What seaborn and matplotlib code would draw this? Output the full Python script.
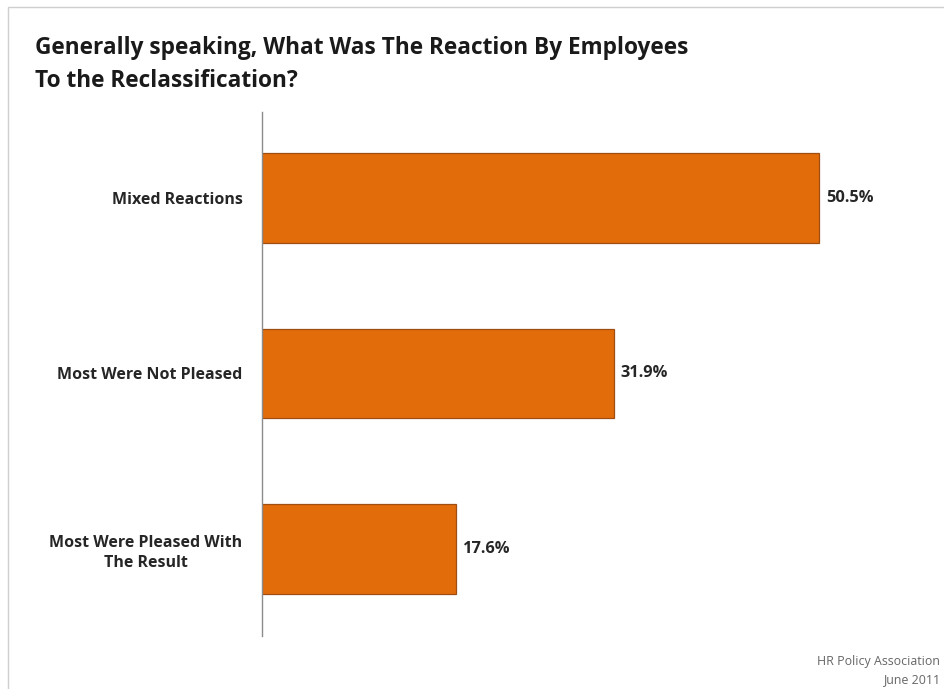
import matplotlib
matplotlib.use("Agg")
import matplotlib.pyplot as plt
import seaborn as sns
import pandas as pd
from matplotlib.patches import Rectangle

# data
reactions = ["Mixed Reactions", "Most Were Not Pleased", "Most Were Pleased With\nThe Result"]
percents = [50.5, 31.9, 17.6]
value_labels = ["50.5%", "31.9%", "17.6%"]

df = pd.DataFrame({"reaction": reactions, "pct": percents})

sns.set_theme(style="white")
plt.rcParams["font.family"] = ["Open Sans", "DejaVu Sans"]

fig = plt.figure(figsize=(9.45, 6.89), dpi=100)
ax = fig.add_axes([0.2772, 0.0769, 0.6540, 0.7605])

sns.barplot(data=df, x="pct", y="reaction", orient="h", color="#E36C0A",
            saturation=1, width=0.51, edgecolor="#9E4E12", linewidth=0.9, ax=ax)

ax.set_xlim(0, 56)
ax.set_ylim(2.496, -0.49)
ax.set_xlabel("")
ax.set_ylabel("")
ax.set_xticks([])
for s in ["top", "right", "bottom"]:
    ax.spines[s].set_visible(False)
ax.spines["left"].set_color("#8c8c8c")
ax.spines["left"].set_linewidth(1.0)
ax.tick_params(axis="y", length=0, pad=14)
for t in ax.get_yticklabels():
    t.set_fontweight("bold")
    t.set_fontsize(11.5)
    t.set_color("#262626")
    t.set_multialignment("center")
    t.set_linespacing(1.35)

for i, v in enumerate(percents):
    ax.text(v + 0.6, i, value_labels[i], va="center", ha="left",
            fontsize=11.8, fontweight="bold", color="#262626")

# title
fig.text(35 / 945, 1 - 48 / 689, "Generally speaking, What Was The Reaction By Employees",
         fontsize=16.3, fontweight="bold", color="#1a1a1a", va="center", ha="left")
fig.text(35 / 945, 1 - 81 / 689, "To the Reclassification?",
         fontsize=16.3, fontweight="bold", color="#1a1a1a", va="center", ha="left")

# footer
fig.text(940 / 945, 1 - 661 / 689, "HR Policy Association", fontsize=8.9,
         color="#666666", ha="right", va="center")
fig.text(940 / 945, 1 - 680 / 689, "June 2011", fontsize=8.9,
         color="#666666", ha="right", va="center")

# light frame around the slide
fig.patches.append(Rectangle((8 / 945, -0.05), 1.0, 1 - 7 / 689 + 0.05,
                             transform=fig.transFigure, fill=False,
                             edgecolor="#cfcfcf", linewidth=1.0))

fig.savefig("out.png", dpi=100)
